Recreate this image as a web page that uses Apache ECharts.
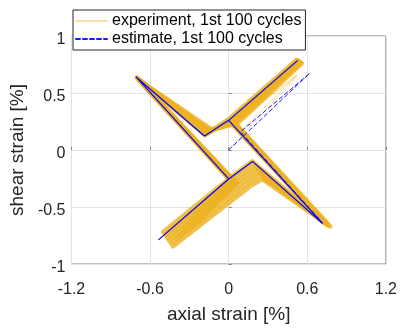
<!DOCTYPE html>
<html>
<head>
<meta charset="utf-8">
<script src="https://cdn.jsdelivr.net/npm/echarts@6/dist/echarts.min.js"></script>
<style>
  html, body { margin: 0; padding: 0; background: #fff; }
  #chart { width: 400px; height: 329px; }
</style>
</head>
<body>
<div id="chart"></div>
<script>
// axis ticks (same as the matlab figure)
const xTicks = [-1.2, -0.6, 0, 0.6, 1.2];
const yTicks = [-1, -0.5, 0, 0.5, 1];

// experiment: one loop per drawn cycle
// order of turning points: UL, V1, P1, UR, P1, LR, P3, P2, LL, P2, UL
const expCycle1 = [[-0.70, 0.635], [-0.18, 0.13], [0.00, 0.27], [0.52, 0.790], [0.00, 0.26], [0.700, -0.61], [0.180, -0.100], [0.000, -0.254], [-0.500, -0.720], [0.000, -0.254], [-0.70, 0.635]];
const expCycle2 = [[-0.695, 0.63], [-0.17, 0.14], [0.015, 0.263], [0.527, 0.785], [0.01, 0.255], [0.715, -0.625], [0.195, -0.130], [0.035, -0.266], [-0.485, -0.745], [0.012, -0.261], [-0.695, 0.63]];
const expCycle3 = [[-0.69, 0.62], [-0.16, 0.15], [0.030, 0.256], [0.535, 0.780], [0.02, 0.250], [0.730, -0.640], [0.210, -0.160], [0.070, -0.278], [-0.470, -0.770], [0.024, -0.268], [-0.69, 0.62]];
const expCycle4 = [[-0.685, 0.615], [-0.15, 0.16], [0.045, 0.249], [0.542, 0.775], [0.03, 0.245], [0.745, -0.650], [0.225, -0.190], [0.100, -0.290], [-0.455, -0.795], [0.036, -0.275], [-0.685, 0.615]];
const expCycle5 = [[-0.68, 0.61], [-0.14, 0.17], [0.058, 0.242], [0.550, 0.768], [0.04, 0.240], [0.760, -0.660], [0.240, -0.220], [0.135, -0.302], [-0.440, -0.820], [0.048, -0.282], [-0.68, 0.61]];
const expCycle6 = [[-0.675, 0.605], [-0.13, 0.18], [0.070, 0.235], [0.558, 0.760], [0.05, 0.235], [0.775, -0.670], [0.257, -0.255], [0.167, -0.315], [-0.425, -0.845], [0.060, -0.290], [-0.675, 0.605]];
// first loading of the experiment (thin pale lines)
const expFirstLoad = [[0.00, 0.00], [0.52, 0.645], [0.02, 0.22], [0.52, 0.66], [0.10, 0.17]];

// estimate
const estCycle = [[-0.707, 0.641], [-0.185, 0.123], [0.00, 0.26], [0.523, 0.782], [0.00, 0.26], [0.715, -0.642], [0.182, -0.10], [0.00, -0.254], [-0.534, -0.786], [0.00, -0.254], [-0.707, 0.641]];
const estFirstLoad = [[0.00, 0.00], [0.617, 0.671], [0.09, 0.16], [0.71, -0.63]];

const FONT = '"Liberation Sans", Arial, Helvetica, sans-serif';
const TEXT = '#262626';
const EXP_NAME = 'experiment, 1st 100 cycles';
const EST_NAME = 'estimate, 1st 100 cycles';

const expCycles = [expCycle1, expCycle2, expCycle3, expCycle4, expCycle5, expCycle6];

function lineSeries(name, data, color, width, type, z) {
  return {
    name: name,
    type: 'line',
    data: data,
    symbol: 'none',
    z: z,
    lineStyle: { color: color, width: width, type: type, join: 'round', cap: 'round' },
    itemStyle: { color: color },
    emphasis: { disabled: true },
  };
}

const series = [
  lineSeries(EXP_NAME, expFirstLoad, 'rgba(237,177,32,0.4)', 1, 'solid', 2),
];
expCycles.forEach((c, i) => {
  series.push(lineSeries('exp' + i, c, 'rgba(237,177,32,0.8)', 4.5, 'solid', 2));
});
series.push(lineSeries(EST_NAME, estFirstLoad, '#1a1aff', 1, [4, 3], 3));
series.push(lineSeries('est', estCycle, '#0000ff', 1.2, 'solid', 3));

const chart = echarts.init(document.getElementById('chart'), null, { renderer: 'canvas' });
chart.setOption({
  animation: false,
  backgroundColor: '#fff',
  textStyle: { fontFamily: FONT, color: TEXT },
  grid: {
    left: 68, right: 12, top: 36, bottom: 60,
    show: true, borderColor: '#808080', borderWidth: 1, backgroundColor: '#fff',
  },
  legend: {
    data: [EXP_NAME, EST_NAME],
    orient: 'vertical',
    left: 73, top: 10,
    padding: [3, 4, 3, 2],
    itemGap: 2,
    itemWidth: 31,
    itemHeight: 18,
    backgroundColor: '#fff',
    borderColor: '#262626',
    borderWidth: 1,
    itemStyle: { opacity: 0 },
    textStyle: { fontFamily: FONT, fontSize: 16, color: '#000' },
    selectedMode: false,
  },
  xAxis: {
    type: 'value',
    min: xTicks[0], max: xTicks[xTicks.length - 1], interval: xTicks[1] - xTicks[0],
    name: 'axial strain [%]',
    nameLocation: 'middle', nameGap: 41,
    nameTextStyle: { fontFamily: FONT, fontSize: 19, color: TEXT },
    axisLine: { show: false },
    axisTick: { show: true, inside: true, length: 3, lineStyle: { color: '#808080' } },
    axisLabel: { fontFamily: FONT, fontSize: 16, color: TEXT, margin: 18 },
    splitLine: { show: true, lineStyle: { color: '#e3e3e3', width: 1 } },
  },
  yAxis: {
    type: 'value',
    min: yTicks[0], max: yTicks[yTicks.length - 1], interval: yTicks[1] - yTicks[0],
    name: 'shear strain [%]',
    nameLocation: 'middle', nameGap: 40,
    nameTextStyle: { fontFamily: FONT, fontSize: 19, color: TEXT },
    axisLine: { show: false },
    axisTick: { show: true, inside: true, length: 3, lineStyle: { color: '#808080' } },
    axisLabel: {
      margin: 6,
      formatter: (v) => '{t|' + v + '}',
      rich: { t: { fontFamily: FONT, fontSize: 16, color: TEXT, padding: [7, 0, 0, 0] } },
    },
    splitLine: { show: true, lineStyle: { color: '#e3e3e3', width: 1 } },
  },
  series: series,
});
</script>
</body>
</html>
